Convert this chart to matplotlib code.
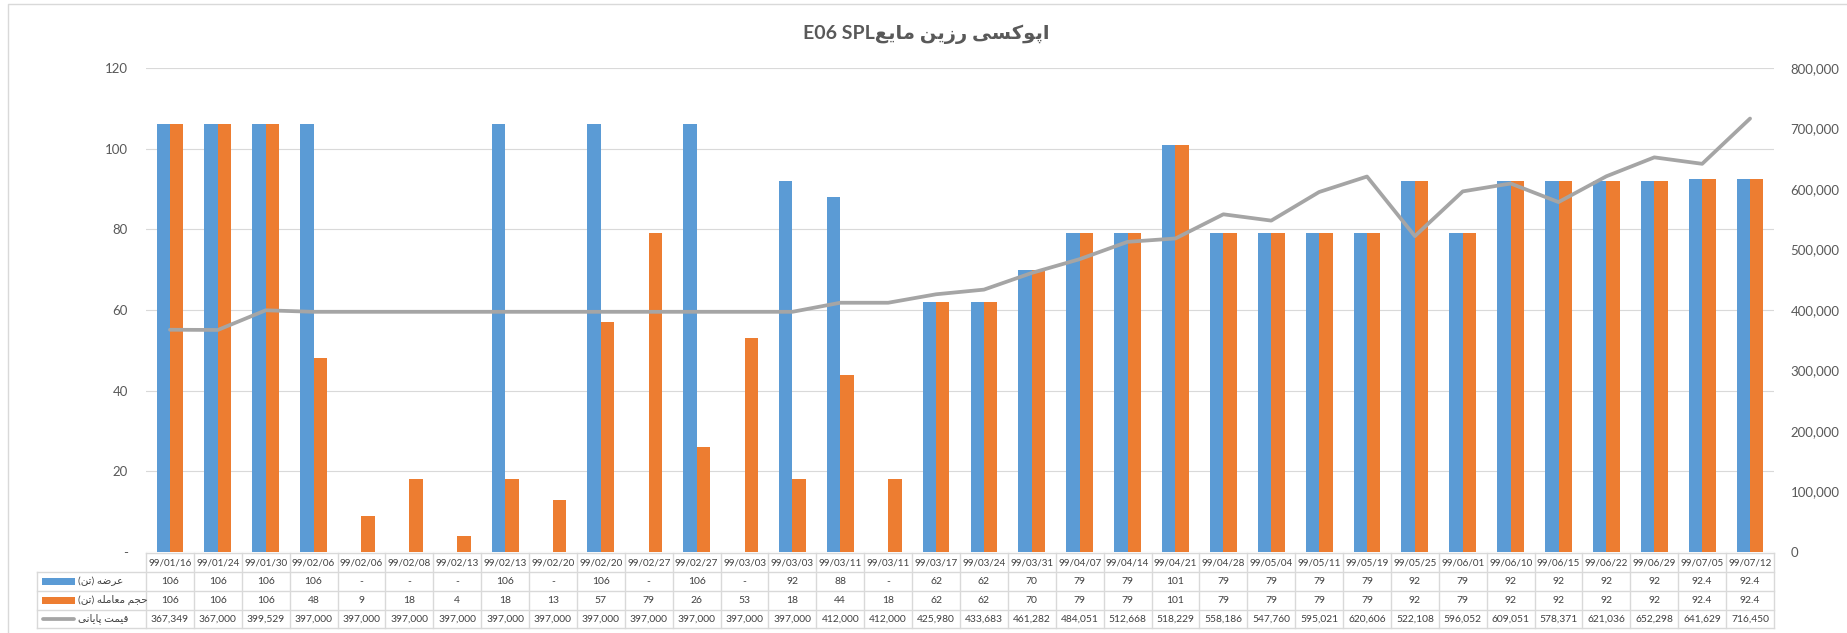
import matplotlib.pyplot as plt
from matplotlib.patches import Rectangle
import numpy as np

# ---- data ----
dates = ["99/01/16", "99/01/24", "99/01/30", "99/02/06", "99/02/06", "99/02/08",
         "99/02/13", "99/02/13", "99/02/20", "99/02/20", "99/02/27", "99/02/27",
         "99/03/03", "99/03/03", "99/03/11", "99/03/11", "99/03/17", "99/03/24",
         "99/03/31", "99/04/07", "99/04/14", "99/04/21", "99/04/28", "99/05/04",
         "99/05/11", "99/05/19", "99/05/25", "99/06/01", "99/06/10", "99/06/15",
         "99/06/22", "99/06/29", "99/07/05", "99/07/12"]

supply = [106, 106, 106, 106, None, None, None, 106, None, 106, None, 106,
          None, 92, 88, None, 62, 62, 70, 79, 79, 101, 79, 79,
          79, 79, 92, 79, 92, 92, 92, 92, 92.4, 92.4]

volume = [106, 106, 106, 48, 9, 18, 4, 18, 13, 57, 79, 26,
          53, 18, 44, 18, 62, 62, 70, 79, 79, 101, 79, 79,
          79, 79, 92, 79, 92, 92, 92, 92, 92.4, 92.4]

price = [367349, 367000, 399529, 397000, 397000, 397000, 397000, 397000, 397000,
         397000, 397000, 397000, 397000, 397000, 412000, 412000, 425980, 433683,
         461282, 484051, 512668, 518229, 558186, 547760, 595021, 620606, 522108,
         596052, 609051, 578371, 621036, 652298, 641629, 716450]

series_names = ["عرضه (تن)", "حجم معامله (تن)", "قیمت پایانی"]
title_fa = "اپوکسی رزین مایع"
title_code = "E06 SPL"

# ---- minimal Persian shaping (matplotlib draws glyphs left-to-right, unjoined) ----
# forms: isolated, final[, initial, medial]
FORMS = {
    'ا': ('\uFE8D', '\uFE8E'),
    'و': ('\uFEED', '\uFEEE'),
    'ر': ('\uFEAD', '\uFEAE'),
    'ز': ('\uFEAF', '\uFEB0'),
    'پ': ('\uFB56', '\uFB57', '\uFB58', '\uFB59'),
    'ک': ('\uFB8E', '\uFB8F', '\uFB90', '\uFB91'),
    'ی': ('\uFBFC', '\uFBFD', '\uFBFE', '\uFBFF'),
    'س': ('\uFEB1', '\uFEB2', '\uFEB3', '\uFEB4'),
    'ن': ('\uFEE5', '\uFEE6', '\uFEE7', '\uFEE8'),
    'م': ('\uFEE1', '\uFEE2', '\uFEE3', '\uFEE4'),
    'ع': ('\uFEC9', '\uFECA', '\uFECB', '\uFECC'),
    'ح': ('\uFEA1', '\uFEA2', '\uFEA3', '\uFEA4'),
    'ج': ('\uFE9D', '\uFE9E', '\uFE9F', '\uFEA0'),
    'ل': ('\uFEDD', '\uFEDE', '\uFEDF', '\uFEE0'),
    'ه': ('\uFEE9', '\uFEEA', '\uFEEB', '\uFEEC'),
    'ق': ('\uFED5', '\uFED6', '\uFED7', '\uFED8'),
    'ت': ('\uFE95', '\uFE96', '\uFE97', '\uFE98'),
    'ض': ('\uFEBD', '\uFEBE', '\uFEBF', '\uFEC0'),
}
MIRROR = {'(': ')', ')': '('}


def rtl(text):
    out = []
    for i, ch in enumerate(text):
        forms = FORMS.get(ch)
        if forms is None:
            out.append(MIRROR.get(ch, ch))
            continue
        prev = text[i - 1] if i > 0 else ''
        nxt = text[i + 1] if i + 1 < len(text) else ''
        jp = len(FORMS.get(prev, ())) == 4
        jn = len(forms) == 4 and nxt in FORMS
        if jp and jn:
            out.append(forms[3])
        elif jp:
            out.append(forms[1])
        elif jn:
            out.append(forms[2])
        else:
            out.append(forms[0])
    return ''.join(reversed(out))


# ---- style ----
W, H = 1847, 633
BLUE, ORANGE, GREY = '#5B9BD5', '#ED7D31', '#A5A5A5'
GRID = '#D9D9D9'
TICK = '#595959'
CELL = '#404040'

plt.rcParams['font.family'] = ['Lato', 'DejaVu Sans']

fig = plt.figure(figsize=(W / 100, H / 100), dpi=100)

# plot area, in pixels
L, R, T, B = 146, 1774, 68, 552
ax = fig.add_axes([L / W, 1 - B / H, (R - L) / W, (B - T) / H])

n = len(dates)
x = np.arange(n)
s = np.array([np.nan if v is None else v for v in supply], dtype=float)
bw = 0.28
ax.bar(x - bw / 2, s, bw, color=BLUE, zorder=2)
ax.bar(x + bw / 2, volume, bw, color=ORANGE, zorder=2)
ax.set_xlim(-0.5, n - 0.5)
ax.set_ylim(0, 120)
ax.set_yticks(range(0, 121, 20))
ax.yaxis.set_major_formatter(lambda v, p: '-' if v == 0 else f'{v:.0f}')
ax.grid(axis='y', color=GRID, lw=0.8, zorder=0)
ax.set_xticks([])
ax.tick_params(axis='y', length=0, pad=13, labelsize=9.5, labelcolor=TICK)
for sp in ax.spines.values():
    sp.set_visible(False)

ax2 = ax.twinx()
ax2.plot(x, price, color=GREY, lw=2.7, solid_joinstyle='round', solid_capstyle='round')
ax2.set_ylim(0, 800000)
ax2.set_yticks(range(0, 800001, 100000))
ax2.yaxis.set_major_formatter(lambda v, p: f'{v:,.0f}')
ax2.tick_params(axis='y', length=0, pad=12, labelsize=9.5, labelcolor=TICK)
for sp in ax2.spines.values():
    sp.set_visible(False)

# ---- overlay in pixel coords: frame, title, data table ----
ov = fig.add_axes([0, 0, 1, 1], zorder=5)
ov.set_xlim(0, W)
ov.set_ylim(H, 0)
ov.axis('off')

ov.plot([8, 8, W + 5], [H + 5, 4, 4], color=GRID, lw=1)

ov.text(926, 34, title_code + rtl(title_fa), ha='center', va='center',
        fontsize=14, fontweight='bold', color=TICK)

colw = (R - L) / n
edges = L + colw * np.arange(n + 1)
centers = edges[:-1] + colw / 2
rows = [553, 572, 591, 609.5, 628]
lab_left = 37
lc = dict(color=GRID, lw=1.0)

ov.plot([L, R], [rows[0], rows[0]], **lc)
for yy in rows[1:]:
    ov.plot([lab_left, R], [yy, yy], **lc)
for xx in edges:
    ov.plot([xx, xx], [rows[0], rows[4]], **lc)
ov.plot([lab_left, lab_left], [rows[1], rows[4]], **lc)


def mid(i):
    return (rows[i] + rows[i + 1]) / 2


for cx, d in zip(centers, dates):
    ov.text(cx, mid(0), d, ha='center', va='center', fontsize=7.1, color=CELL)

fmt = lambda v: '-' if v is None else f'{v:g}'
for cx, a, b, c in zip(centers, supply, volume, price):
    ov.text(cx, mid(1), fmt(a), ha='center', va='center', fontsize=7.5, color=CELL)
    ov.text(cx, mid(2), fmt(b), ha='center', va='center', fontsize=7.5, color=CELL)
    ov.text(cx, mid(3), f'{c:,}', ha='center', va='center', fontsize=7.4, color=CELL)

# legend keys in the label column
for i, col in ((1, BLUE), (2, ORANGE)):
    ov.add_patch(Rectangle((42, mid(i) - 3.5), 33, 7, color=col, lw=0))
ov.plot([43, 74], [mid(3), mid(3)], color=GREY, lw=2.7, solid_capstyle='round')
for i, name in enumerate(series_names):
    ov.text(78, mid(i + 1), rtl(name), ha='left', va='center', fontsize=7.5, color=CELL)

fig.savefig('out.png', dpi=100)
